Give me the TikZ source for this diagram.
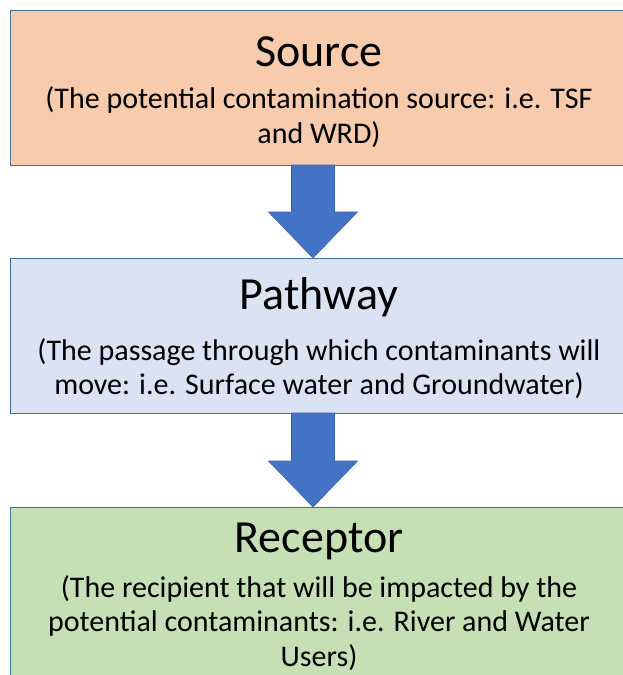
\documentclass[tikz,border=0pt]{standalone}
\usepackage{fontspec}
\setmainfont{Carlito}
\usetikzlibrary{calc}
\definecolor{srcfill}{HTML}{F8CBAD}
\definecolor{pathfill}{HTML}{DAE3F3}
\definecolor{recfill}{HTML}{C5E0B4}
\definecolor{boxline}{HTML}{41719C}
\definecolor{arrfill}{HTML}{4472C4}
\definecolor{arrline}{HTML}{3A64B0}
\begin{document}
\begin{tikzpicture}[x=1pt,y=-1pt,
  box/.style={draw=boxline, line width=1pt, minimum width=617pt, minimum height=155pt, inner sep=0pt, anchor=north west},
  ttl/.style={font=\fontsize{46}{52}\selectfont, inner sep=0pt, anchor=base},
  body/.style={font=\fontsize{30}{34}\selectfont, inner sep=0pt, anchor=base},
  arr/.style={fill=arrfill, draw=arrline, line width=0.6pt}]
\useasboundingbox (0,0) rectangle (623,675);
\fill[white] (0,0) rectangle (623,675);
\node[box, fill=srcfill] (source) at (10,10) {};
\node[box, fill=pathfill] (pathway) at (10,258) {};
\node[box, fill=recfill, minimum height=200pt] (receptor) at (10,507) {};
% source
\node[ttl] (t1) at (319,66) {Source};
\node[body] (b1a) at (319,108) {(The potential contamination source: i.e. TSF};
\node[body] (b1b) at (319,143) {and WRD)};
% pathway
\node[ttl] (t2) at (319,309) {Pathway};
\node[body] (b2a) at (319,360) {(The passage through which contaminants will};
\node[body] (b2b) at (319,394) {move: i.e. Surface water and Groundwater)};
% receptor
\node[ttl] (t3) at (319,552) {Receptor};
\node[body] (b3a) at (319,597) {(The recipient that will be impacted by the};
\node[body] (b3b) at (319,631) {potential contaminants: i.e. River and Water};
\node[body] (b3c) at (319,666) {Users)};
% arrows
\coordinate (a1s) at (313,165);
\coordinate (a1e) at (313,258);
\coordinate (a2s) at (313,413);
\coordinate (a2e) at (313,507);
\draw[arr] ($(a1s)+(-21.5,0)$) -- ($(a1s)+(21.5,0)$) -- ($(a1e)+(21.5,-46)$) -- ($(a1e)+(44.5,-46)$) -- (a1e) -- ($(a1e)+(-44.5,-46)$) -- ($(a1e)+(-21.5,-46)$) -- cycle;
\draw[arr] ($(a2s)+(-21.5,0)$) -- ($(a2s)+(21.5,0)$) -- ($(a2e)+(21.5,-46)$) -- ($(a2e)+(44.5,-46)$) -- (a2e) -- ($(a2e)+(-44.5,-46)$) -- ($(a2e)+(-21.5,-46)$) -- cycle;
\end{tikzpicture}
\end{document}
